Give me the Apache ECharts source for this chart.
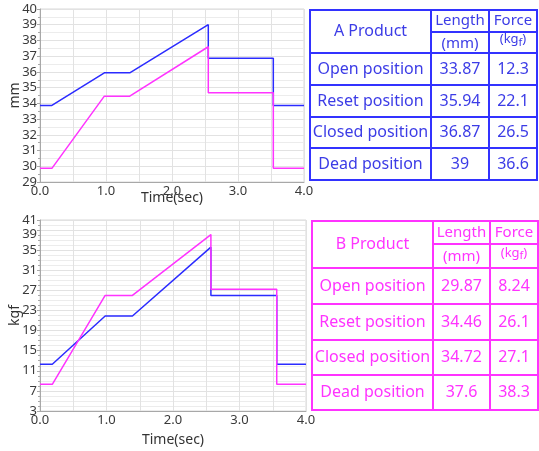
<!DOCTYPE html>
<html><head><meta charset="utf-8">
<script src="https://cdn.jsdelivr.net/npm/echarts@6/dist/echarts.min.js"></script>
<style>html,body{margin:0;padding:0;background:#fff}#c{width:539px;height:451px}</style>
</head><body><div id="c"></div>
<script>
// ---- data ----
var timesTop = [0, 0.18, 0.975, 1.36, 2.55, 2.55, 3.535, 3.535, 4.0];
var lengthA = [33.87, 33.87, 35.94, 35.94, 39, 36.87, 36.87, 33.87, 33.87];
var lengthB = [29.87, 29.87, 34.46, 34.46, 37.6, 34.68, 34.68, 29.87, 29.87];
var timesBottom = [0, 0.185, 0.98, 1.39, 2.57, 2.57, 3.56, 3.56, 4.0];
var forceA = [12.3, 12.3, 21.9, 21.9, 35.6, 26.0, 26.0, 12.3, 12.3];
var forceB = [8.3, 8.3, 26.0, 26.0, 38.1, 27.2, 27.2, 8.3, 8.3];

var rowLabels = ['Open position', 'Reset position', 'Closed position', 'Dead position'];
var tableALength = ['33.87', '35.94', '36.87', '39'];
var tableAForce = ['12.3', '22.1', '26.5', '36.6'];
var tableBLength = ['29.87', '34.46', '34.72', '37.6'];
var tableBForce = ['8.24', '26.1', '27.1', '38.3'];
var tableTitles = ['A Product', 'B Product'];

var FONT = 'Noto Sans';
function pairs(t, v) { return t.map(function (x, i) { return [x, v[i]]; }); }

function makeTable(title, lens, forces, g, color, textColor) {
  var els = [];
  var x0 = g.x[0], x1 = g.x[1], x2 = g.x[2], x3 = g.x[3];
  var ys = g.y;
  var ls = { stroke: color, lineWidth: 2 };
  els.push({ type: 'rect', shape: { x: x0, y: ys[0], width: x3 - x0, height: ys[ys.length - 1] - ys[0] }, style: { fill: '#fff', stroke: color, lineWidth: 2 } });
  [x1, x2].forEach(function (x) {
    els.push({ type: 'line', shape: { x1: x, y1: ys[0], x2: x, y2: ys[ys.length - 1] }, style: ls });
  });
  els.push({ type: 'line', shape: { x1: x1, y1: g.mid, x2: x3, y2: g.mid }, style: ls });
  for (var i = 1; i < ys.length - 1; i++) {
    els.push({ type: 'line', shape: { x1: x0, y1: ys[i], x2: x3, y2: ys[i] }, style: ls });
  }
  function txt(s, cx, cy, size) {
    return { type: 'text', x: cx, y: cy, style: { text: s, fill: textColor, font: size + 'px "' + FONT + '"', align: 'center', verticalAlign: 'middle' } };
  }
  els.push(txt(title, (x0 + x1) / 2, (ys[0] + ys[1]) / 2, 16));
  els.push(txt('Length', (x1 + x2) / 2, (ys[0] + g.mid) / 2, 15));
  els.push(txt('(mm)', (x1 + x2) / 2, (g.mid + ys[1]) / 2 + 1, 15));
  els.push(txt('Force', (x2 + x3) / 2, (ys[0] + g.mid) / 2, 15));
  els.push({ type: 'text', x: (x2 + x3) / 2, y: (g.mid + ys[1]) / 2 - 3, style: { text: '(kg{s|f})', fill: textColor, font: '13px "' + FONT + '"', align: 'center', verticalAlign: 'middle', rich: { s: { fontSize: 11, fontFamily: FONT, fill: textColor, padding: [6, 0, 0, 0] } } } });
  for (var r = 0; r < rowLabels.length; r++) {
    var cy = (ys[r + 1] + ys[r + 2]) / 2;
    els.push(txt(rowLabels[r], (x0 + x1) / 2, cy, 16));
    els.push(txt(lens[r], (x1 + x2) / 2, cy, 16));
    els.push(txt(forces[r], (x2 + x3) / 2, cy, 16));
  }
  return els;
}

var blue = '#2b2bff', pink = '#ff33ff';
var gridLine = '#e2e2e2', minorLine = '#ececec', axisCol = '#a8a8a8', labelCol = '#3a3a3a';

function xAxis(gi) {
  return {
    type: 'value', gridIndex: gi, min: 0, max: 4, interval: 1,
    name: 'Time(sec)', nameLocation: 'middle', nameGap: gi === 0 ? 9 : 22, nameMoveOverlap: false,
    nameTextStyle: { fontFamily: FONT, fontSize: 14, color: '#333', verticalAlign: 'top' },
    axisLine: { show: true, lineStyle: { color: axisCol } },
    axisTick: { show: false },
    axisLabel: { fontFamily: FONT, fontSize: 13, color: labelCol, margin: 3, formatter: function (v) { return v.toFixed(1); } },
    splitLine: { show: true, lineStyle: { color: gridLine } },
    minorTick: { show: false, splitNumber: 2 },
    minorSplitLine: { show: true, lineStyle: { color: gridLine } }
  };
}
function yAxis(gi, min, max, interval, minorSplit, name, formatter) {
  return {
    type: 'value', gridIndex: gi, min: min, max: max, interval: interval,
    name: name, nameLocation: 'middle', nameGap: 25, nameRotate: 90, nameMoveOverlap: false,
    nameTextStyle: { fontFamily: FONT, fontSize: 14, color: '#333', verticalAlign: 'middle' },
    axisLine: { show: true, lineStyle: { color: axisCol } },
    axisTick: { show: true, length: 3, lineStyle: { color: axisCol } },
    axisLabel: { fontFamily: FONT, fontSize: 13, color: labelCol, margin: 3, showMaxLabel: true, showMinLabel: true, hideOverlap: false,
      formatter: formatter, rich: { low: { fontFamily: FONT, fontSize: 13, color: labelCol, padding: [9, 0, 0, 0] } } },
    splitLine: { show: true, lineStyle: { color: gridLine } },
    minorTick: { show: true, splitNumber: minorSplit, length: 2, lineStyle: { color: axisCol } },
    minorSplitLine: { show: true, lineStyle: { color: minorLine } }
  };
}
function line(xi, t, v, color) {
  return { type: 'line', xAxisIndex: xi, yAxisIndex: xi, data: pairs(t, v), symbol: 'none', lineStyle: { color: color, width: 1.5 }, itemStyle: { color: color }, animation: false };
}

var chart = echarts.init(document.getElementById('c'), null, { renderer: 'canvas' });
chart.setOption({
  animation: false,
  grid: [
    { left: 40, top: 9, width: 264, height: 173, show: true, borderColor: '#d8d8d8', borderWidth: 1 },
    { left: 40, top: 220, width: 266, height: 191, show: true, borderColor: '#d8d8d8', borderWidth: 1 }
  ],
  xAxis: [xAxis(0), xAxis(1)],
  yAxis: [
    yAxis(0, 29, 40, 1, 2, 'mm', function (v) { return String(v); }),
    yAxis(1, 3, 41, 4, 4, 'kgf', function (v) { return v === 39 ? '{low|39}' : String(v); })
  ],
  series: [
    line(0, timesTop, lengthA, blue),
    line(0, timesTop, lengthB, pink),
    line(1, timesBottom, forceA, blue),
    line(1, timesBottom, forceB, pink)
  ],
  graphic: makeTable(tableTitles[0], tableALength, tableAForce,
      { x: [310, 431, 489, 537], y: [10, 53, 85, 117, 148, 180], mid: 32 }, '#3232ff', '#3c3ce6')
    .concat(makeTable(tableTitles[1], tableBLength, tableBForce,
      { x: [312, 433, 490, 538], y: [221, 268, 304, 340, 375, 410], mid: 244 }, '#ff33ff', '#ff33ff'))
});
</script></body></html>
